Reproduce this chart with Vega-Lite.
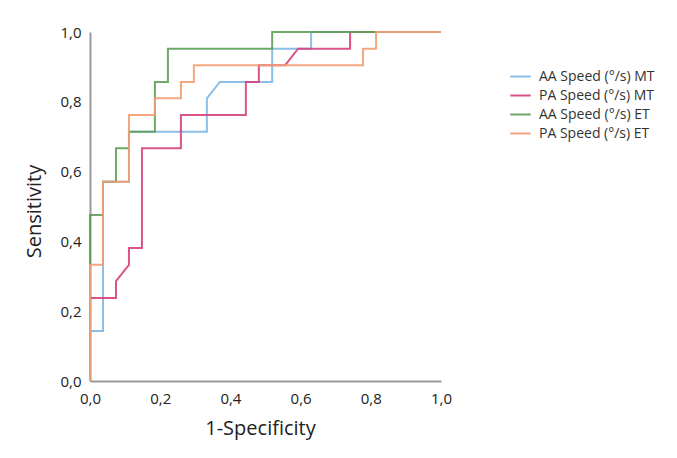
{
  "$schema": "https://vega.github.io/schema/vega-lite/v6.json",
  "width": 351,
  "height": 349,
  "autosize": {"type": "none"},
  "padding": {"left": 90, "top": 32, "right": 236, "bottom": 77},
  "background": "white",
  "data": {
    "values": [
      {"s": "AA Speed (°/s) MT", "i": 0, "x": 0, "y": 0},
      {"s": "AA Speed (°/s) MT", "i": 1, "x": 0, "y": 0.143},
      {"s": "AA Speed (°/s) MT", "i": 2, "x": 0.037, "y": 0.143},
      {"s": "AA Speed (°/s) MT", "i": 3, "x": 0.037, "y": 0.571},
      {"s": "AA Speed (°/s) MT", "i": 4, "x": 0.111, "y": 0.571},
      {"s": "AA Speed (°/s) MT", "i": 5, "x": 0.111, "y": 0.714},
      {"s": "AA Speed (°/s) MT", "i": 6, "x": 0.333, "y": 0.714},
      {"s": "AA Speed (°/s) MT", "i": 7, "x": 0.333, "y": 0.810},
      {"s": "AA Speed (°/s) MT", "i": 8, "x": 0.370, "y": 0.857},
      {"s": "AA Speed (°/s) MT", "i": 9, "x": 0.519, "y": 0.857},
      {"s": "AA Speed (°/s) MT", "i": 10, "x": 0.519, "y": 0.952},
      {"s": "AA Speed (°/s) MT", "i": 11, "x": 0.630, "y": 0.952},
      {"s": "AA Speed (°/s) MT", "i": 12, "x": 0.630, "y": 1},
      {"s": "AA Speed (°/s) MT", "i": 13, "x": 1, "y": 1},

      {"s": "PA Speed (°/s) MT", "i": 0, "x": 0, "y": 0},
      {"s": "PA Speed (°/s) MT", "i": 1, "x": 0, "y": 0.238},
      {"s": "PA Speed (°/s) MT", "i": 2, "x": 0.074, "y": 0.238},
      {"s": "PA Speed (°/s) MT", "i": 3, "x": 0.074, "y": 0.286},
      {"s": "PA Speed (°/s) MT", "i": 4, "x": 0.111, "y": 0.333},
      {"s": "PA Speed (°/s) MT", "i": 5, "x": 0.111, "y": 0.381},
      {"s": "PA Speed (°/s) MT", "i": 6, "x": 0.148, "y": 0.381},
      {"s": "PA Speed (°/s) MT", "i": 7, "x": 0.148, "y": 0.667},
      {"s": "PA Speed (°/s) MT", "i": 8, "x": 0.259, "y": 0.667},
      {"s": "PA Speed (°/s) MT", "i": 9, "x": 0.259, "y": 0.762},
      {"s": "PA Speed (°/s) MT", "i": 10, "x": 0.444, "y": 0.762},
      {"s": "PA Speed (°/s) MT", "i": 11, "x": 0.444, "y": 0.857},
      {"s": "PA Speed (°/s) MT", "i": 12, "x": 0.481, "y": 0.857},
      {"s": "PA Speed (°/s) MT", "i": 13, "x": 0.481, "y": 0.905},
      {"s": "PA Speed (°/s) MT", "i": 14, "x": 0.556, "y": 0.905},
      {"s": "PA Speed (°/s) MT", "i": 15, "x": 0.593, "y": 0.952},
      {"s": "PA Speed (°/s) MT", "i": 16, "x": 0.741, "y": 0.952},
      {"s": "PA Speed (°/s) MT", "i": 17, "x": 0.741, "y": 1},
      {"s": "PA Speed (°/s) MT", "i": 18, "x": 1, "y": 1},

      {"s": "AA Speed (°/s) ET", "i": 0, "x": 0, "y": 0},
      {"s": "AA Speed (°/s) ET", "i": 1, "x": 0, "y": 0.476},
      {"s": "AA Speed (°/s) ET", "i": 2, "x": 0.037, "y": 0.476},
      {"s": "AA Speed (°/s) ET", "i": 3, "x": 0.037, "y": 0.571},
      {"s": "AA Speed (°/s) ET", "i": 4, "x": 0.074, "y": 0.571},
      {"s": "AA Speed (°/s) ET", "i": 5, "x": 0.074, "y": 0.667},
      {"s": "AA Speed (°/s) ET", "i": 6, "x": 0.111, "y": 0.667},
      {"s": "AA Speed (°/s) ET", "i": 7, "x": 0.111, "y": 0.714},
      {"s": "AA Speed (°/s) ET", "i": 8, "x": 0.185, "y": 0.714},
      {"s": "AA Speed (°/s) ET", "i": 9, "x": 0.185, "y": 0.857},
      {"s": "AA Speed (°/s) ET", "i": 10, "x": 0.222, "y": 0.857},
      {"s": "AA Speed (°/s) ET", "i": 11, "x": 0.222, "y": 0.952},
      {"s": "AA Speed (°/s) ET", "i": 12, "x": 0.519, "y": 0.952},
      {"s": "AA Speed (°/s) ET", "i": 13, "x": 0.519, "y": 1},
      {"s": "AA Speed (°/s) ET", "i": 14, "x": 1, "y": 1},

      {"s": "PA Speed (°/s) ET", "i": 0, "x": 0, "y": 0},
      {"s": "PA Speed (°/s) ET", "i": 1, "x": 0, "y": 0.333},
      {"s": "PA Speed (°/s) ET", "i": 2, "x": 0.037, "y": 0.333},
      {"s": "PA Speed (°/s) ET", "i": 3, "x": 0.037, "y": 0.571},
      {"s": "PA Speed (°/s) ET", "i": 4, "x": 0.111, "y": 0.571},
      {"s": "PA Speed (°/s) ET", "i": 5, "x": 0.111, "y": 0.762},
      {"s": "PA Speed (°/s) ET", "i": 6, "x": 0.185, "y": 0.762},
      {"s": "PA Speed (°/s) ET", "i": 7, "x": 0.185, "y": 0.810},
      {"s": "PA Speed (°/s) ET", "i": 8, "x": 0.259, "y": 0.810},
      {"s": "PA Speed (°/s) ET", "i": 9, "x": 0.259, "y": 0.857},
      {"s": "PA Speed (°/s) ET", "i": 10, "x": 0.296, "y": 0.857},
      {"s": "PA Speed (°/s) ET", "i": 11, "x": 0.296, "y": 0.905},
      {"s": "PA Speed (°/s) ET", "i": 12, "x": 0.778, "y": 0.905},
      {"s": "PA Speed (°/s) ET", "i": 13, "x": 0.778, "y": 0.952},
      {"s": "PA Speed (°/s) ET", "i": 14, "x": 0.815, "y": 0.952},
      {"s": "PA Speed (°/s) ET", "i": 15, "x": 0.815, "y": 1},
      {"s": "PA Speed (°/s) ET", "i": 16, "x": 1, "y": 1}
    ]
  },
  "mark": {"type": "line", "strokeWidth": 2, "opacity": 0.9},
  "encoding": {
    "x": {
      "field": "x", "type": "quantitative",
      "scale": {"domain": [0, 1], "nice": false},
      "axis": {
        "title": "1-Specificity", "values": [0, 0.2, 0.4, 0.6, 0.8, 1],
        "labelExpr": "replace(format(datum.value, '.1f'), '.', ',')",
        "labelFlush": false,
        "grid": false, "ticks": false, "domainColor": "#9a9a9a", "domainWidth": 2,
        "labelFont": "Open Sans", "labelFontSize": 15, "labelColor": "#222", "labelPadding": 10,
        "titleFont": "Open Sans", "titleFontSize": 20, "titleFontWeight": "normal", "titleColor": "#222", "titlePadding": 12,
        "titleX": 170
      }
    },
    "y": {
      "field": "y", "type": "quantitative",
      "scale": {"domain": [0, 1], "nice": false},
      "axis": {
        "title": "Sensitivity", "values": [0, 0.2, 0.4, 0.6, 0.8, 1],
        "labelExpr": "replace(format(datum.value, '.1f'), '.', ',')",
        "labelFlush": false,
        "grid": false, "ticks": false, "domainColor": "#9a9a9a", "domainWidth": 2,
        "labelFont": "Open Sans", "labelFontSize": 15, "labelColor": "#222", "labelPadding": 9,
        "titleFont": "Open Sans", "titleFontSize": 20, "titleFontWeight": "normal", "titleColor": "#222", "titlePadding": 15,
        "titleY": 179
      }
    },
    "color": {
      "field": "s", "type": "nominal",
      "scale": {
        "domain": ["AA Speed (°/s) MT", "PA Speed (°/s) MT", "AA Speed (°/s) ET", "PA Speed (°/s) ET"],
        "range": ["#7fb8e6", "#d6417c", "#5f9e55", "#f29d70"]
      },
      "legend": {
        "title": null, "orient": "none", "legendX": 419, "legendY": 33,
        "symbolType": "stroke", "symbolSize": 420, "symbolStrokeWidth": 2,
        "labelFont": "Open Sans", "labelFontSize": 14, "labelColor": "#333",
        "rowPadding": -20, "labelOffset": 7
      }
    },
    "order": {"field": "i", "type": "quantitative"}
  },
  "config": {"view": {"stroke": null}}
}
